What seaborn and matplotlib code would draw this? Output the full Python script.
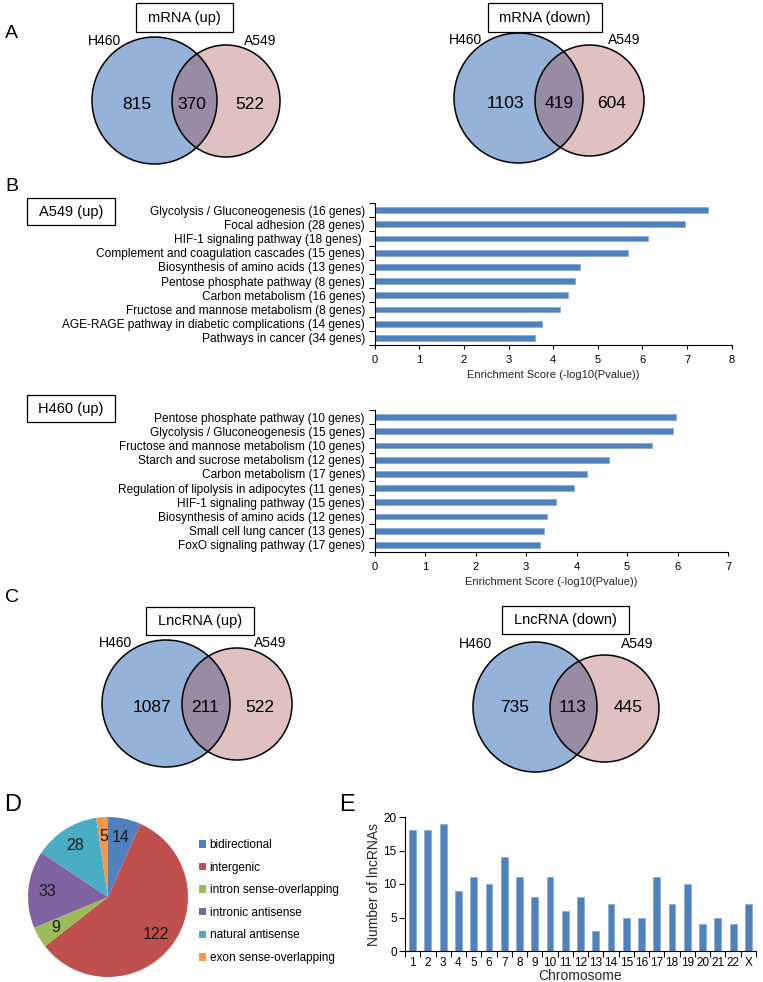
import numpy as np
import pandas as pd
import matplotlib
matplotlib.use("Agg")
import matplotlib.pyplot as plt
import seaborn as sns
from matplotlib.patches import Ellipse, Rectangle

# ---------------- data ----------------
venn_titles = ["mRNA (up)", "mRNA (down)", "LncRNA (up)", "LncRNA (down)"]
venn_h460_only = [815, 1103, 1087, 735]
venn_shared = [370, 419, 211, 113]
venn_a549_only = [522, 604, 522, 445]
venn_set_names = ["H460", "A549"]

a549_terms = [
    "Glycolysis / Gluconeogenesis (16 genes)",
    "Focal adhesion (28 genes)",
    "HIF-1 signaling pathway (18 genes) ",
    "Complement and coagulation cascades (15 genes)",
    "Biosynthesis of amino acids (13 genes)",
    "Pentose phosphate pathway (8 genes)",
    "Carbon metabolism (16 genes)",
    "Fructose and mannose metabolism (8 genes)",
    "AGE-RAGE pathway in diabetic complications (14 genes)",
    "Pathways in cancer (34 genes)",
]
a549_scores = [7.47, 6.95, 6.12, 5.67, 4.60, 4.48, 4.33, 4.15, 3.74, 3.59]

h460_terms = [
    "Pentose phosphate pathway (10 genes)",
    "Glycolysis / Gluconeogenesis (15 genes)",
    "Fructose and mannose metabolism (10 genes)",
    "Starch and sucrose metabolism (12 genes)",
    "Carbon metabolism (17 genes)",
    "Regulation of lipolysis in adipocytes (11 genes)",
    "HIF-1 signaling pathway (15 genes)",
    "Biosynthesis of amino acids (12 genes)",
    "Small cell lung cancer (13 genes)",
    "FoxO signaling pathway (17 genes)",
]
h460_scores = [5.97, 5.92, 5.50, 4.64, 4.20, 3.95, 3.60, 3.42, 3.36, 3.28]

lnc_types = ["bidirectional", "intergenic", "intron sense-overlapping",
             "intronic antisense", "natural antisense", "exon sense-overlapping"]
lnc_counts = [14, 122, 9, 33, 28, 5]

chromosomes = [str(i) for i in range(1, 23)] + ["X"]
chrom_counts = [18, 18, 19, 9, 11, 10, 14, 11, 8, 11, 6, 8, 3, 7, 5, 5, 11, 7, 10, 4, 5, 4, 7]

# ---------------- style ----------------
sns.set_theme(style="white")
plt.rcParams["font.family"] = ["Liberation Sans", "DejaVu Sans"]
plt.rcParams["axes.edgecolor"] = "black"
plt.rcParams["text.color"] = "black"
plt.rcParams["xtick.color"] = "black"
plt.rcParams["ytick.color"] = "black"

W, H = 763, 982
fig = plt.figure(figsize=(W / 100, H / 100), dpi=100)


def rect(x0, y0, x1, y1):
    return [x0 / W, 1 - y1 / H, (x1 - x0) / W, (y1 - y0) / H]


canvas = fig.add_axes([0, 0, 1, 1])
canvas.set_xlim(0, W)
canvas.set_ylim(H, 0)
canvas.axis("off")

BAR = "#4F81BD"
V_BLUE = "#95B3D8"
V_PINK = "#DFC1C1"
V_OVER = "#998BA4"

# ---------------- Venn diagrams (A, C) ----------------
venn_layout = [
    dict(b=(154.5, 100.5, 125, 127), p=(226, 101, 108, 112), box=(136, 3, 233, 32),
         ly=41, ny=104, nx=(137, 192, 250), lx=(104.5, 260)),
    dict(b=(518.5, 98, 129, 130), p=(589.5, 100.5, 109, 111), box=(488, 3, 602, 32),
         ly=40, ny=103, nx=(505, 559, 612), lx=(465.5, 624)),
    dict(b=(166, 703.5, 128, 127), p=(237, 704, 110, 112), box=(146, 607, 254, 635),
         ly=643, ny=707, nx=(152, 205, 260), lx=(115, 270)),
    dict(b=(535, 707, 124, 130), p=(604.5, 708.5, 109, 107), box=(502, 606, 629, 634),
         ly=644, ny=707, nx=(515, 573, 628), lx=(476, 637)),
]

for i, L in enumerate(venn_layout):
    bx, by, bw, bh = L["b"]
    px, py, pw, ph = L["p"]
    blue = Ellipse((bx, by), bw, bh, facecolor=V_BLUE, edgecolor="none")
    pink = Ellipse((px, py), pw, ph, facecolor=V_PINK, edgecolor="none")
    canvas.add_patch(blue)
    canvas.add_patch(pink)
    over = Ellipse((px, py), pw, ph, facecolor=V_OVER, edgecolor="none")
    canvas.add_patch(over)
    over.set_clip_path(blue)
    canvas.add_patch(Ellipse((bx, by), bw, bh, fill=False, edgecolor="black", lw=1.1))
    canvas.add_patch(Ellipse((px, py), pw, ph, fill=False, edgecolor="black", lw=1.1))
    x0, y0, x1, y1 = L["box"]
    canvas.add_patch(Rectangle((x0, y0), x1 - x0, y1 - y0, fill=False, edgecolor="black", lw=0.9))
    canvas.text((x0 + x1) / 2, (y0 + y1) / 2, venn_titles[i], ha="center", va="center", fontsize=10.5)
    for name, lx in zip(venn_set_names, L["lx"]):
        canvas.text(lx, L["ly"], name, ha="center", va="center", fontsize=10)
    for val, nx in zip([venn_h460_only[i], venn_shared[i], venn_a549_only[i]], L["nx"]):
        canvas.text(nx, L["ny"], str(val), ha="center", va="center", fontsize=12.5)

# panel letters
for letter, x, y, fs in [("A", 5, 33, 14), ("B", 5, 186, 14), ("C", 5, 597, 14),
                          ("D", 4, 805, 17), ("E", 339, 805, 17)]:
    canvas.text(x, y, letter, ha="left", va="center", fontsize=fs)

# ---------------- B: enrichment bar charts ----------------
def enrich(ax_rect, terms, scores, xmax, box, title):
    ax = fig.add_axes(rect(*ax_rect))
    ax.patch.set_alpha(0)
    df = pd.DataFrame({"term": terms, "score": scores})
    sns.barplot(data=df, x="score", y="term", orient="h", color=BAR, saturation=1,
                width=0.42, ax=ax, edgecolor="#7FA4D4", linewidth=0.4)
    ax.set_xlim(0, xmax)
    ax.set_xticks(range(0, xmax + 1))
    ax.set_ylim(len(terms) - 0.5, -0.5)
    ax.set_yticks(np.arange(-0.5, len(terms), 1), minor=True)
    ax.tick_params(axis="y", which="major", length=0, pad=7, labelsize=8.6)
    ax.tick_params(axis="y", which="minor", length=4, width=0.8, direction="out", left=True)
    ax.tick_params(axis="x", which="major", length=3, width=0.8, direction="out", bottom=True,
                   pad=4, labelsize=8)
    ax.set_ylabel("")
    ax.set_xlabel("Enrichment Score (-log10(Pvalue))", fontsize=8, labelpad=4)
    sns.despine(ax=ax)
    for s in ["left", "bottom"]:
        ax.spines[s].set_linewidth(0.8)
    x0, y0, x1, y1 = box
    canvas.add_patch(Rectangle((x0, y0), x1 - x0, y1 - y0, fill=False, edgecolor="black", lw=0.9))
    canvas.text((x0 + x1) / 2, (y0 + y1) / 2, title, ha="center", va="center", fontsize=10.5)
    return ax


enrich((374.6, 203, 731.7, 345), a549_terms, a549_scores, 8, (27, 198, 115, 225), "A549 (up)")
enrich((374.6, 410, 728, 552), h460_terms, h460_scores, 7, (27, 395, 115, 422), "H460 (up)")

# ---------------- D: pie chart ----------------
pie_colors = ["#4F81BD", "#C0504D", "#9BBB59", "#8064A2", "#4BACC6", "#F79646"]
axp = fig.add_axes(rect(28, 817, 188, 977))
wedges, texts = axp.pie(lnc_counts, colors=pie_colors, startangle=90, counterclock=False,
                        labels=[str(v) for v in lnc_counts], labeldistance=0.76,
                        wedgeprops=dict(linewidth=0), textprops=dict(fontsize=11.5, color="#1a1a1a"))
for t in texts:
    t.set_ha("center")
    t.set_va("center")
axp.set_xlim(-1, 1)
axp.set_ylim(-1, 1)
axp.set_aspect("equal")
fig.legend(wedges, lnc_types, loc="upper left", bbox_to_anchor=(199 / W, 1 - 839 / H),
           bbox_transform=fig.transFigure, frameon=False, fontsize=8.5,
           handlelength=0.6, handleheight=0.6, handletextpad=0.3, labelspacing=0.9,
           borderpad=0, borderaxespad=0)

# ---------------- E: chromosome bar chart ----------------
axe = fig.add_axes(rect(405, 817, 756, 951))
axe.patch.set_alpha(0)
dfe = pd.DataFrame({"chrom": chromosomes, "n": chrom_counts})
sns.barplot(data=dfe, x="chrom", y="n", color=BAR, saturation=1, width=0.45, ax=axe,
            edgecolor="#7FA4D4", linewidth=0.4)
axe.set_xlim(-0.5, len(chromosomes) - 0.5)
axe.set_ylim(0, 20)
axe.set_yticks([0, 5, 10, 15, 20])
axe.set_xticks(np.arange(-0.5, len(chromosomes), 1), minor=True)
axe.tick_params(axis="x", which="major", length=0, pad=4, labelsize=8.5)
axe.tick_params(axis="x", which="minor", length=4, width=0.8, direction="out", bottom=True)
axe.tick_params(axis="y", which="major", length=4, width=0.8, direction="out", left=True,
                pad=2, labelsize=8.5)
axe.set_xlabel("Chromosome", fontsize=10, labelpad=0)
axe.set_ylabel("Number of lncRNAs", fontsize=10, labelpad=2)
sns.despine(ax=axe)
for s in ["left", "bottom"]:
    axe.spines[s].set_linewidth(0.8)

fig.savefig("out.png", dpi=100)
